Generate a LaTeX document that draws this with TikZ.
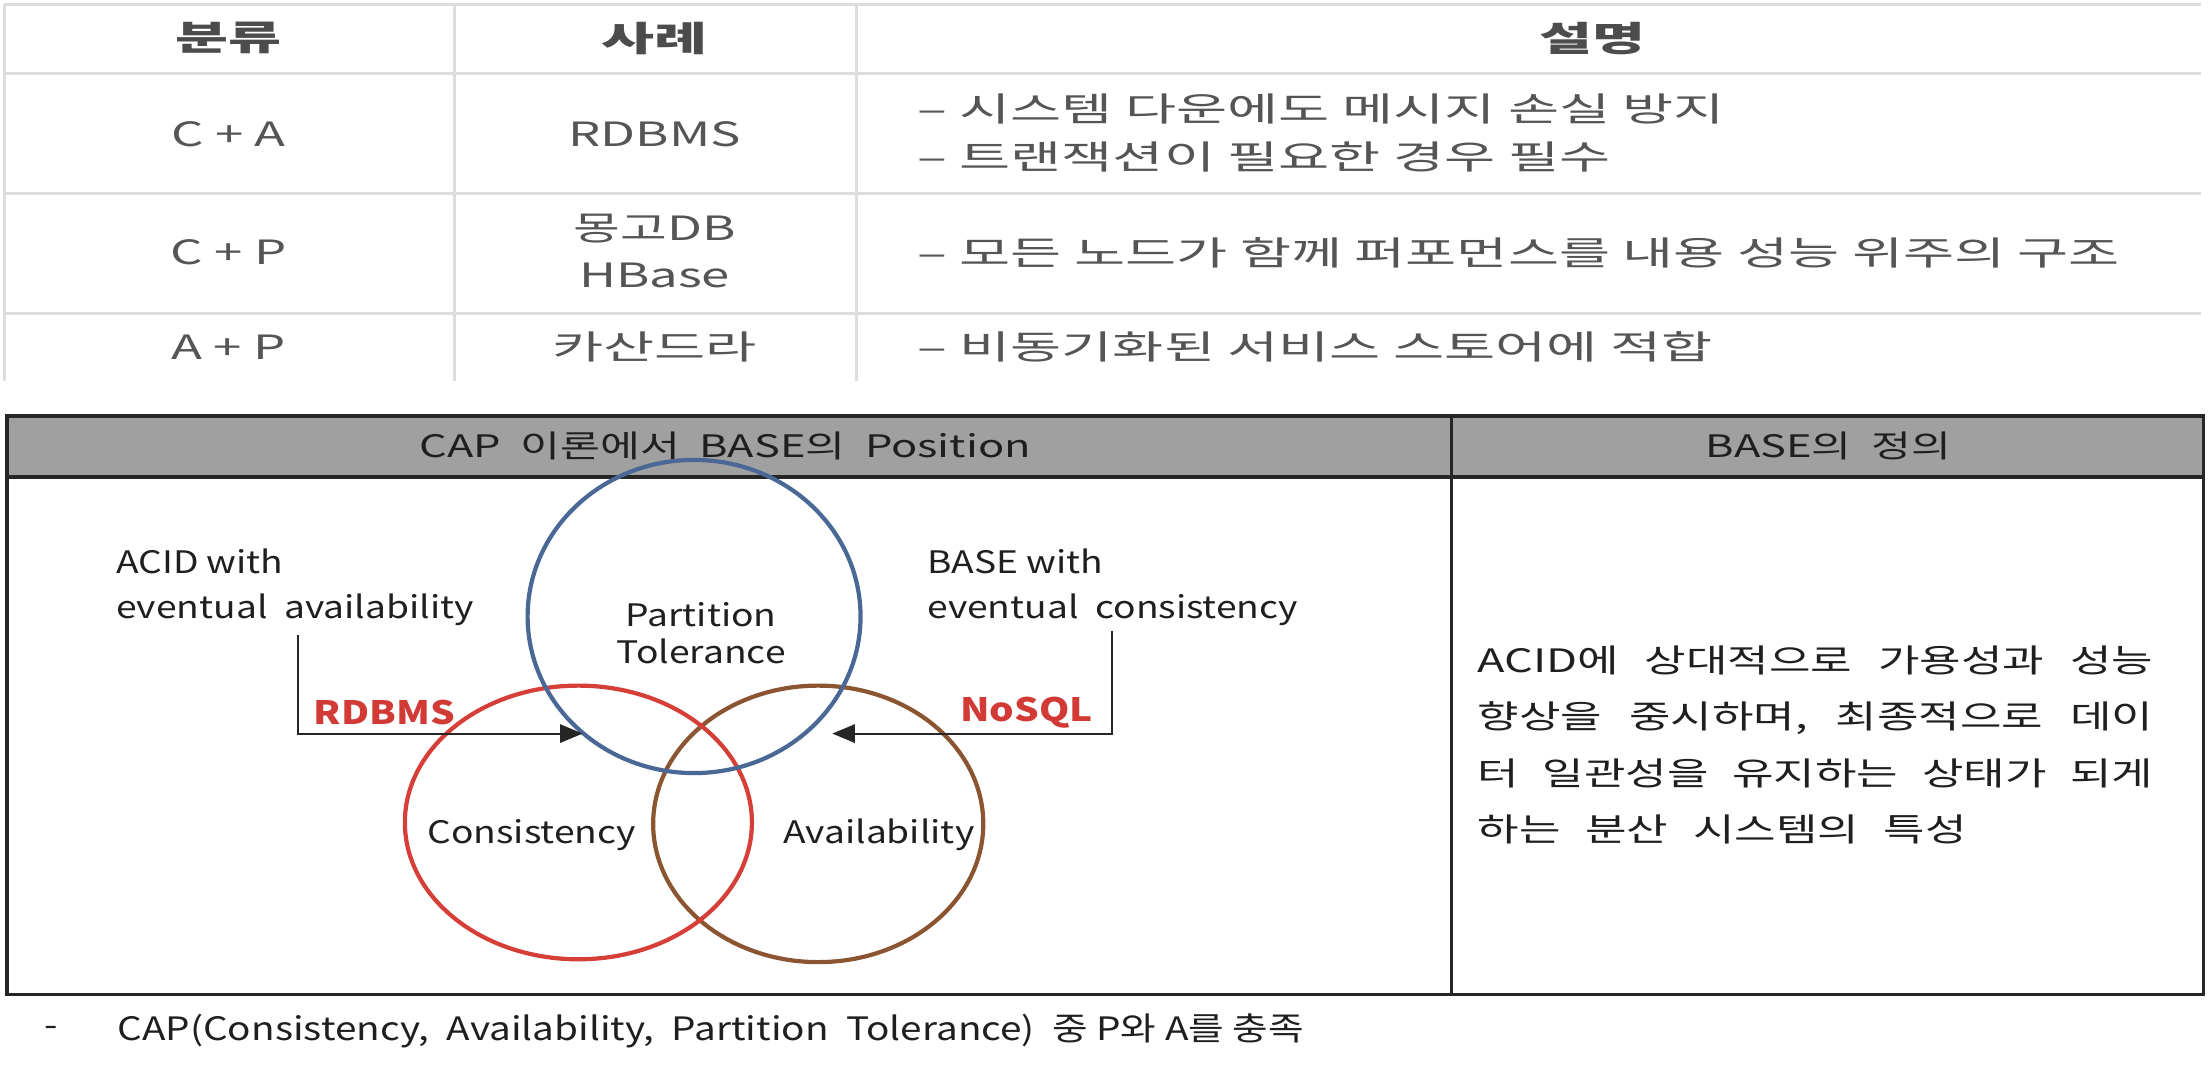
\documentclass[tikz,border=0pt]{standalone}
\usepackage{fontspec}
\setmainfont{Noto Sans CJK KR}
\newfontfamily\tkofont[FakeStretch=1.66]{Noto Sans CJK KR}
\newfontfamily\tlafont[FakeStretch=1.52]{Noto Sans CJK KR}
\newfontfamily\capfont[FakeStretch=1.2]{Noto Sans CJK KR}
\newfontfamily\hdfont[FakeStretch=1.4]{Noto Sans CJK KR}
\newfontfamily\deffont[FakeStretch=1.4]{Noto Sans CJK KR}
\usepackage{xcolor}
\usepackage{tikz}
\usetikzlibrary{arrows.meta, positioning, calc}

\definecolor{gridgray}{HTML}{DDDDDD}
\definecolor{tbltext}{HTML}{555555}
\definecolor{headgray}{HTML}{A0A0A0}
\definecolor{ptblue}{HTML}{4A6896}
\definecolor{cred}{HTML}{D63E38}
\definecolor{abrown}{HTML}{8A5530}
\definecolor{lblred}{HTML}{D23A36}

\begin{document}
\begin{tikzpicture}[x=0.2mm, y=-0.2mm,
  tcell/.style={font=\tkofont\fontsize{13.5}{16}\selectfont, text=tbltext, inner sep=0pt},
  tlat/.style={tcell, font=\tlafont\fontsize{13.5}{16}\selectfont},
  thead/.style={tcell, font=\tkofont\bfseries\fontsize{14}{16}\selectfont, text=black!70},
  vlabel/.style={font=\capfont\fontsize{12.5}{15}\selectfont, text=black!88, inner sep=0pt},
  hlabel/.style={vlabel, font=\hdfont\fontsize{12.5}{15}\selectfont},
  dblabel/.style={font=\capfont\bfseries\fontsize{13}{15}\selectfont, text=lblred, inner sep=0pt},
  vring/.style={line width=1.7pt},
  arr/.style={black!85, line width=0.8pt, -{Triangle[length=3.2mm, width=2.6mm]}}]
  \useasboundingbox (0,0) rectangle (1568,757);
  % top table: light grid
  \foreach \yy in {3,52,137,222} {
    \draw[gridgray, line width=1.2pt] (3,\yy) -- (1560,\yy);
  }
  \foreach \xx in {3,322,607} {
    \draw[gridgray, line width=1.2pt] (\xx,3) -- (\xx,270);
  }
  % header row
  \node[thead] (hcls) at (162,27) {분류};
  \node[thead] (hcase) at (464,27) {사례};
  \node[thead] (hdesc) at (1129,27) {설명};
  % C + A
  \node[tlat] (ca) at (162,95) {C + A};
  \node[tlat] (rdb) at (464,95) {RDBMS};
  \node[tcell, anchor=west] (dca1) at (650,77) {– 시스템 다운에도 메시지 손실 방지};
  \node[tcell, anchor=west] (dca2) at (650,111) {– 트랜잭션이 필요한 경우 필수};
  % C + P
  \node[tlat] (cp) at (162,179) {C + P};
  \node[tlat] (mongo) at (464,162) {몽고DB};
  \node[tlat] (hbase) at (464,195) {HBase};
  \node[tcell, anchor=west] (dcp) at (650,179) {– 모든 노드가 함께 퍼포먼스를 내용 성능 위주의 구조};
  % A + P
  \node[tlat] (ap) at (162,246) {A + P};
  \node[tcell] (cass) at (464,246) {카산드라};
  \node[tcell, anchor=west] (dap) at (650,246) {– 비동기화된 서비스 스토어에 적합};

  % bottom table frame
  \fill[headgray] (5,295) rectangle (1562,338);
  \draw[black!85, line width=1.4pt] (5,295) rectangle (1562,705);
  \draw[black!85, line width=1.4pt] (5,338) -- (1562,338);
  \draw[black!85, line width=1.4pt] (1029,295) -- (1029,705);
  \node[hlabel] (hpos) at (514,316) {CAP\ \ 이론에서\ \ BASE의\ \ Position};
  \node[hlabel] (hdef) at (1296,316) {BASE의\ \ 정의};

  % Venn rings
  \draw[vring, abrown] (580,584) ellipse [x radius=117, y radius=98];
  \draw[vring, cred] (410,583) ellipse [x radius=123, y radius=97];
  \draw[vring, ptblue] (492,437) ellipse [x radius=118, y radius=111];
  \node[vlabel, align=center] (ptol) at (497,449) {Partition\\Tolerance};
  \node[vlabel] (cons) at (377,592) {Consistency};
  \node[vlabel] (avail) at (623,592) {Availability};

  % side notes and pointers
  \node[vlabel, anchor=west] (acid1) at (82,398) {ACID\ with};
  \node[vlabel, anchor=west] (acid2) at (82,432) {eventual\ \ availability};
  \node[vlabel, anchor=west] (base1) at (657,398) {BASE\ with};
  \node[vlabel, anchor=west] (base2) at (657,432) {eventual\ \ consistency};
  \node[dblabel, anchor=west] (rdbms) at (222,505) {RDBMS};
  \node[dblabel, anchor=east] (nosql) at (775,505) {NoSQL};
  \coordinate (acidfoot) at (211,450);
  \coordinate (ptleft) at (413,520);
  \coordinate (basefoot) at (788,447);
  \coordinate (ptright) at (590,520);
  \draw[arr] (acidfoot) |- (ptleft);
  \draw[arr] (basefoot) |- (ptright);

  % definition text
  \node[font=\deffont\fontsize{13}{22.7}\selectfont, text=black!88, inner sep=0pt,
    text width=95.8mm, align=justify, anchor=west] (bdef) at (1047,528)
    {\spaceskip=10pt plus 30pt minus 2pt
     ACID에 상대적으로 가용성과 성능\linebreak 향상을 중시하며, 최종적으로 데이\linebreak 터 일관성을 유지하는 상태가 되게\linebreak 하는 분산 시스템의 특성};

  % note below
  \node[font=\capfont\fontsize{13}{16}\selectfont, text=black!88, inner sep=0pt, anchor=west] (ndash) at (31,731) {-};
  \node[font=\capfont\fontsize{13}{16}\selectfont, text=black!88, inner sep=0pt, anchor=west] (note) at (83,731)
    {CAP(Consistency,\ \ Availability,\ \ Partition\ \ Tolerance)\ \ 중\ P와\ A를\ 충족};
\end{tikzpicture}
\end{document}
